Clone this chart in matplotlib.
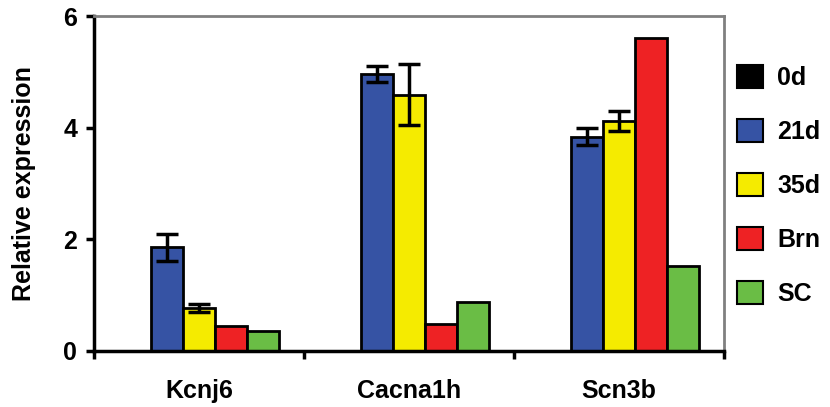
import numpy as np
import matplotlib.pyplot as plt
from matplotlib.patches import Patch

genes = ["Kcnj6", "Cacna1h", "Scn3b"]
series = ["0d", "21d", "35d", "Brn", "SC"]
colors = ["#000000", "#3653A4", "#F5EB00", "#EE2224", "#6ABD45"]

vals_0d = [0.0, 0.0, 0.0]
vals_21d = [1.86, 4.96, 3.84]
vals_35d = [0.77, 4.59, 4.12]
vals_brn = [0.44, 0.48, 5.60]
vals_sc = [0.36, 0.88, 1.53]

err_21d = [0.24, 0.15, 0.15]
err_35d = [0.07, 0.55, 0.18]

ytick_vals = [0, 2, 4, 6]


def main():
    plt.rcParams['font.family'] = ['Liberation Sans', 'DejaVu Sans']
    plt.rcParams['font.weight'] = 'bold'

    fig = plt.figure(figsize=(8.3, 4.07), dpi=100)
    ax = fig.add_axes([94 / 830, 1 - 351 / 407, 630 / 830, 335 / 407])

    allVals = [vals_0d, vals_21d, vals_35d, vals_brn, vals_sc]
    allErrs = [None, err_21d, err_35d, None, None]
    x = np.arange(len(genes))
    w = 0.152

    for i, (v, e, c) in enumerate(zip(allVals, allErrs, colors)):
        pos = x + (i - 2) * w
        ax.bar(pos, v, width=w, color=c, edgecolor='black', linewidth=2, zorder=2)
        if e is not None:
            ax.errorbar(pos, v, yerr=e, fmt='none', ecolor='black',
                        elinewidth=2.5, capsize=8, capthick=2.5, zorder=3)

    ax.set_xlim(-0.5, 2.5)
    ax.set_ylim(0, 6)
    ax.set_yticks(ytick_vals)
    ax.set_yticklabels([str(t) for t in ytick_vals], fontsize=18, fontweight='bold')

    ax.set_xticks([-0.5, 0.5, 1.5, 2.5])
    ax.set_xticklabels([])
    ax.set_xticks(x, minor=True)
    ax.set_xticklabels(genes, minor=True, fontsize=18, fontweight='bold')
    ax.tick_params(axis='x', which='minor', length=0, pad=20)
    ax.tick_params(axis='both', which='major', direction='out', length=6, width=2.5)
    ax.tick_params(axis='y', pad=6)

    for s in ['left', 'bottom']:
        ax.spines[s].set_linewidth(2.5)
        ax.spines[s].set_color('black')
    for s in ['top', 'right']:
        ax.spines[s].set_linewidth(2)
        ax.spines[s].set_color('#808080')

    ax.set_ylabel("Relative expression", fontsize=18, fontweight='bold')
    ax.yaxis.set_label_coords(-58 / 630, 0.5)

    handles = [Patch(facecolor=c, edgecolor='black', linewidth=1.5) for c in colors]
    fig.legend(handles, series, loc='upper left', bbox_to_anchor=(737 / 830, 1 - 65 / 407),
               frameon=False, fontsize=18, handlelength=1.05, handleheight=1.05,
               labelspacing=1.15, handletextpad=0.55, borderpad=0, borderaxespad=0)

    fig.savefig("out.png", dpi=100)


if __name__ == "__main__":
    main()
